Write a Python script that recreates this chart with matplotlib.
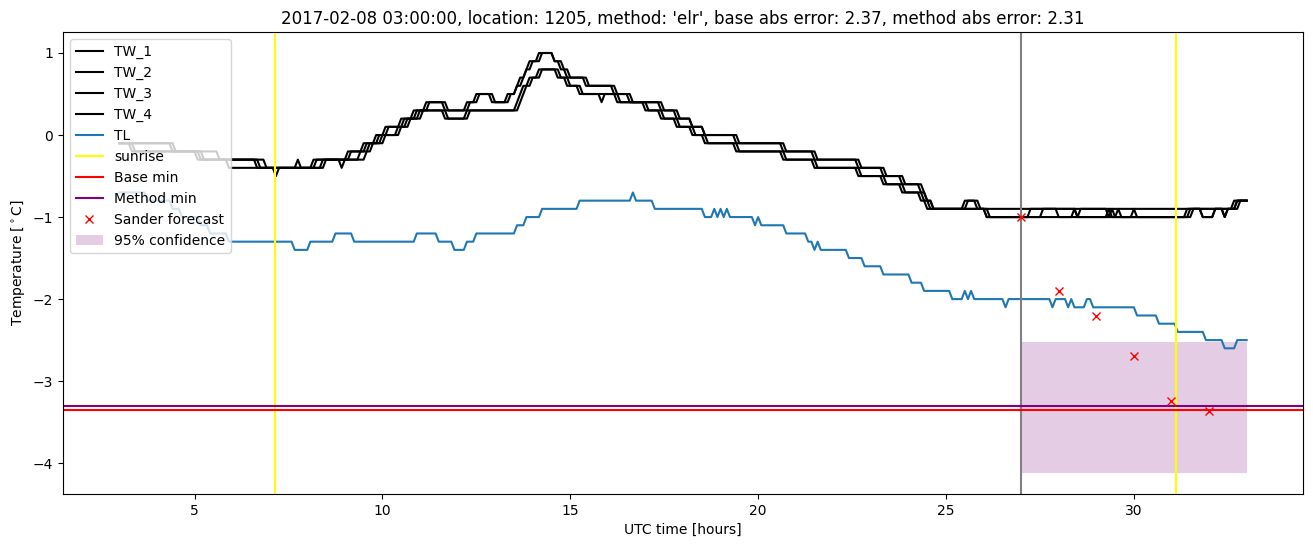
import numpy as np
import matplotlib
matplotlib.use("Agg")
import matplotlib.pyplot as plt

# ---------------- data (change points, 5-minute sampling) ----------------
TW1_t = [3.0, 4.42, 5.67, 6.92, 7.75, 7.83, 8.17, 9.08, 9.5, 9.83, 10.08, 10.5, 10.83, 11.17, 11.75, 12.25, 12.5, 12.92,
         13.33, 13.58, 13.67, 13.83, 13.92, 14.17, 14.58, 14.83, 15.0, 15.5, 16.25, 16.67, 17.42, 17.83, 18.25, 18.58,
         19.42, 20.67, 21.5, 22.67, 23.33, 23.83, 24.33, 24.5, 24.67, 25.5, 25.83, 28.5, 28.58, 31.83, 32.17, 32.75]
TW1_v = [-0.1, -0.2, -0.3, -0.4, -0.3, -0.4, -0.3, -0.2, -0.1, 0.0, 0.1, 0.2, 0.3, 0.4, 0.3, 0.4, 0.5, 0.4,
         0.5, 0.6, 0.7, 0.8, 0.9, 1.0, 0.9, 0.8, 0.7, 0.6, 0.5, 0.4, 0.3, 0.2, 0.1, 0.0,
         -0.1, -0.2, -0.3, -0.4, -0.5, -0.6, -0.7, -0.8, -0.9, -0.8, -0.9, -1.0, -0.9, -1.0, -0.9, -0.8]

TW2_t = [3.0, 4.5, 5.25, 6.67, 7.17, 7.25, 8.25, 8.92, 9.0, 9.17, 9.58, 9.92, 10.17, 10.58, 10.92, 11.25, 11.67, 12.33,
         12.58, 13.0, 13.42, 13.58, 13.75, 13.83, 14.0, 14.25, 14.58, 14.75, 14.92, 15.42, 16.17, 16.58, 17.5, 17.92,
         18.25, 18.58, 19.5, 20.75, 21.58, 22.75, 23.42, 23.92, 24.42, 24.5, 24.67, 25.58, 25.92, 26.08, 27.25, 28.0,
         29.42, 29.5, 31.42, 32.42, 32.5, 32.83]
TW2_v = [-0.1, -0.2, -0.3, -0.4, -0.5, -0.4, -0.3, -0.4, -0.3, -0.2, -0.1, 0.0, 0.1, 0.2, 0.3, 0.4, 0.3, 0.4,
         0.5, 0.4, 0.5, 0.6, 0.7, 0.8, 0.9, 1.0, 0.9, 0.8, 0.7, 0.6, 0.5, 0.4, 0.3, 0.2,
         0.1, 0.0, -0.1, -0.2, -0.3, -0.4, -0.5, -0.6, -0.7, -0.8, -0.9, -0.8, -0.9, -1.0, -0.9, -1.0,
         -0.9, -1.0, -0.9, -1.0, -0.9, -0.8]

TW3_t = [3.0, 3.33, 5.08, 5.92, 8.42, 9.42, 9.67, 10.0, 10.42, 10.67, 11.0, 11.75, 12.33, 13.58, 13.67, 13.75, 13.92,
         14.17, 14.67, 14.92, 15.25, 15.83, 15.92, 16.25, 17.08, 17.5, 17.83, 18.25, 18.58, 19.5, 20.75, 21.58, 22.75,
         23.42, 23.92, 24.42, 24.58, 26.17, 27.58, 29.33, 29.58, 29.67, 30.0, 30.08, 31.58, 31.83, 32.17, 32.67]
TW3_v = [-0.1, -0.2, -0.3, -0.4, -0.3, -0.2, -0.1, 0.0, 0.1, 0.2, 0.3, 0.2, 0.3, 0.4, 0.5, 0.6, 0.7,
         0.8, 0.7, 0.6, 0.5, 0.4, 0.5, 0.4, 0.3, 0.2, 0.1, 0.0, -0.1, -0.2, -0.3, -0.4, -0.5,
         -0.6, -0.7, -0.8, -0.9, -1.0, -0.9, -1.0, -0.9, -1.0, -0.9, -1.0, -0.9, -1.0, -0.9, -0.8]

TW4_t = [3.0, 3.42, 5.17, 6.75, 8.5, 9.58, 9.75, 10.08, 10.5, 10.75, 11.08, 11.67, 12.25, 13.67, 13.75, 13.83, 14.0,
         14.25, 14.75, 15.0, 15.33, 16.33, 17.0, 17.42, 17.92, 18.33, 18.67, 19.42, 20.67, 21.5, 22.67, 23.33, 23.83,
         24.33, 24.5, 26.08, 28.42, 28.5, 29.33, 29.42, 31.5, 32.42, 32.5, 32.75]
TW4_v = [-0.1, -0.2, -0.3, -0.4, -0.3, -0.2, -0.1, 0.0, 0.1, 0.2, 0.3, 0.2, 0.3, 0.4, 0.5, 0.6, 0.7,
         0.8, 0.7, 0.6, 0.5, 0.4, 0.3, 0.2, 0.1, 0.0, -0.1, -0.2, -0.3, -0.4, -0.5, -0.6, -0.7,
         -0.8, -0.9, -1.0, -0.9, -1.0, -0.9, -1.0, -0.9, -1.0, -0.9, -0.8]

TL_t = [3.0, 3.75, 4.42, 4.67, 5.17, 5.42, 5.92, 7.67, 8.08, 8.75, 9.25, 10.92, 11.5, 11.92, 12.25, 12.5, 13.58, 13.83,
        14.25, 15.25, 16.67, 16.75, 17.25, 18.58, 18.83, 18.92, 19.0, 19.08, 19.17, 19.25, 19.92, 20.0, 20.08, 20.75,
        21.33, 21.5, 21.58, 21.67, 22.42, 22.83, 23.33, 24.08, 24.42, 25.17, 25.5, 25.58, 25.67, 25.75, 26.58, 26.67,
        27.83, 27.92, 28.25, 28.33, 28.42, 28.75, 28.92, 30.08, 30.67, 31.17, 31.92, 32.42, 32.75]
TL_v = [-0.7, -0.8, -0.9, -1.0, -1.1, -1.2, -1.3, -1.4, -1.3, -1.2, -1.3, -1.2, -1.3, -1.4, -1.3, -1.2, -1.1, -1.0,
        -0.9, -0.8, -0.7, -0.8, -0.9, -1.0, -0.9, -1.0, -0.9, -1.0, -0.9, -1.0, -1.1, -1.0, -1.1, -1.2,
        -1.3, -1.4, -1.3, -1.4, -1.5, -1.6, -1.7, -1.8, -1.9, -2.0, -1.9, -2.0, -1.9, -2.0, -2.1, -2.0,
        -2.1, -2.0, -2.1, -2.0, -2.1, -2.0, -2.1, -2.2, -2.3, -2.4, -2.5, -2.6, -2.5]

T_START, T_END = 3.0, 33.0
sunrise = [7.14, 31.12]
forecast_time = 27.0
base_min = -3.35
method_min = -3.30
sander_x = [27, 28, 29, 30, 31, 32]
sander_y = [-1.0, -1.9, -2.2, -2.69, -3.24, -3.36]
conf_x = [27.0, 33.0]
conf_low = -4.12
conf_high = -2.52

title = ("2017-02-08 03:00:00, location: 1205, method: 'elr', "
         "base abs error: 2.37, method abs error: 2.31")

# ---------------- build sampled series ----------------
n = int(round((T_END - T_START) * 12)) + 1
t = T_START + np.arange(n) / 12.0


def expand(ct, cv):
    idx_change = np.round((np.asarray(ct) - T_START) * 12).astype(int)
    k = np.arange(n)
    pos = np.searchsorted(idx_change, k, side="right") - 1
    return np.asarray(cv)[pos]


fig = plt.figure(figsize=(13.13, 5.47), dpi=100)
ax = fig.add_axes([63 / 1313, 1 - 494 / 547, (1303 - 63) / 1313, (494 - 32) / 547])

for name, ct, cv in [("TW_1", TW1_t, TW1_v), ("TW_2", TW2_t, TW2_v),
                     ("TW_3", TW3_t, TW3_v), ("TW_4", TW4_t, TW4_v)]:
    ax.plot(t, expand(ct, cv), color="black", label=name)
ax.plot(t, expand(TL_t, TL_v), color="C0", label="TL")

for i, s in enumerate(sunrise):
    ax.axvline(s, color="yellow", label="sunrise" if i == 0 else None)
ax.axvline(forecast_time, color="gray")
ax.axhline(base_min, color="red", label="Base min")
ax.axhline(method_min, color="purple", label="Method min")
ax.plot(sander_x, sander_y, "x", color="red", linestyle="none", label="Sander forecast")
ax.fill_between(conf_x, conf_low, conf_high, color="purple", alpha=0.2, linewidth=0,
                label="95% confidence")

ax.set_title(title)
ax.set_xlabel("UTC time [hours]")
ax.set_ylabel(r"Temperature [$^\circ$C]")
ax.legend(loc="upper left")

fig.savefig("out.png", dpi=100)
